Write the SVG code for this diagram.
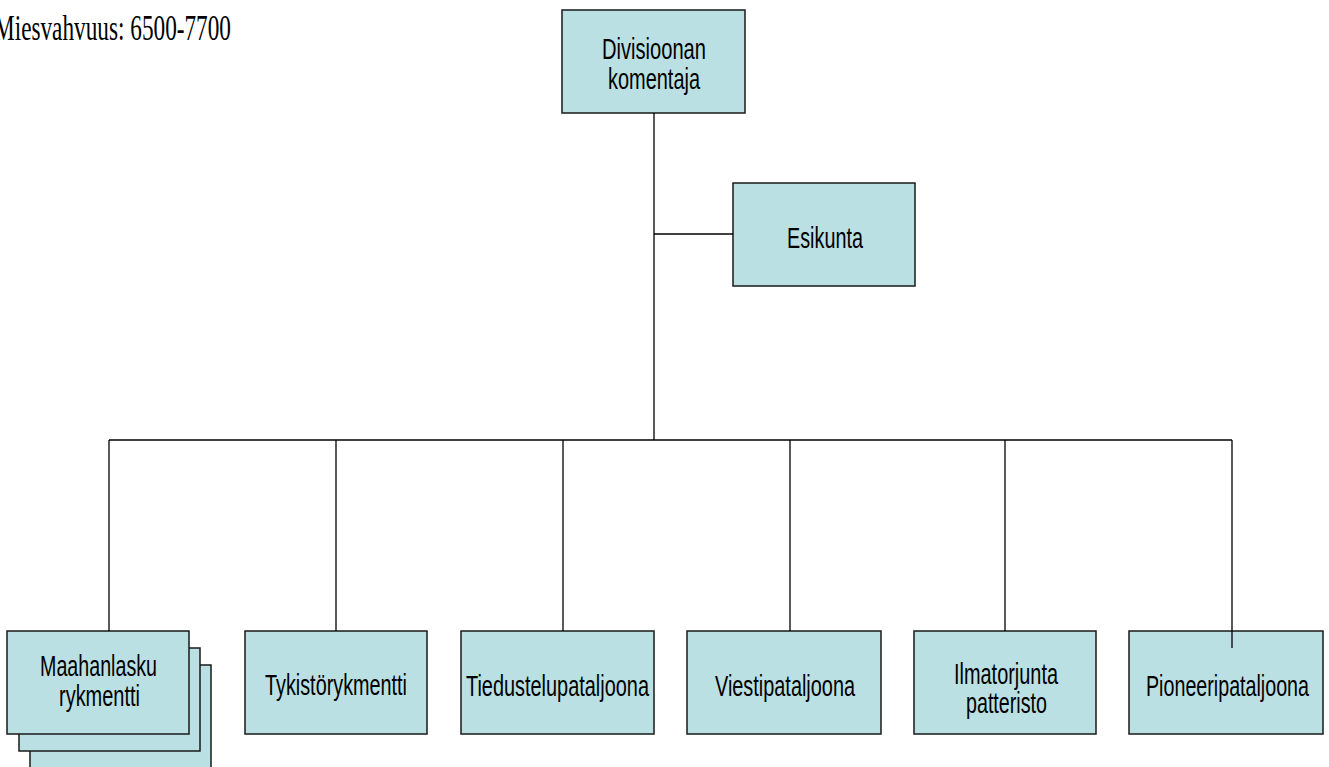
<svg xmlns="http://www.w3.org/2000/svg" width="1329" height="767" viewBox="0 0 1329 767">
<style>
.box{fill:#bbe0e3;stroke:#1a1a1a;stroke-width:1.5}
.t{font-family:"Liberation Sans",Arial,sans-serif;font-size:30px;fill:#000;text-anchor:start}
.c{stroke:#000;stroke-width:1.3;fill:none}
</style>
<rect width="1329" height="767" fill="#fff"/>
<text x="-6" y="40" font-family="Liberation Serif,'Times New Roman',serif" font-size="35" textLength="237" lengthAdjust="spacingAndGlyphs">Miesvahvuus: 6500-7700</text>
<g id="n-komentaja">
<rect class="box" x="562" y="10" width="183" height="103"/>
<text class="t" x="602" y="59" textLength="104" lengthAdjust="spacingAndGlyphs">Divisioonan</text>
<text class="t" x="608" y="89" textLength="92" lengthAdjust="spacingAndGlyphs">komentaja</text>
</g>
<g id="n-esikunta">
<rect class="box" x="733" y="183" width="182" height="103"/>
<text class="t" x="787" y="248" textLength="76" lengthAdjust="spacingAndGlyphs">Esikunta</text>
</g>
<g id="n-maahanlasku">
<rect class="box" x="30" y="665" width="181" height="110"/>
<rect class="box" x="19" y="648" width="181" height="103"/>
<rect class="box" x="7" y="631" width="182" height="103"/>
<text class="t" x="40" y="676" textLength="117" lengthAdjust="spacingAndGlyphs">Maahanlasku</text>
<text class="t" x="59" y="706" textLength="81" lengthAdjust="spacingAndGlyphs">rykmentti</text>
</g>
<g id="n-tykisto">
<rect class="box" x="245" y="631" width="182" height="103"/>
<text class="t" x="265" y="695" textLength="142" lengthAdjust="spacingAndGlyphs">Tykistörykmentti</text>
</g>
<g id="n-tiedustelu">
<rect class="box" x="461" y="631" width="193" height="103"/>
<text class="t" x="466" y="696" textLength="183" lengthAdjust="spacingAndGlyphs">Tiedustelupataljoona</text>
</g>
<g id="n-viesti">
<rect class="box" x="687" y="631" width="194" height="103"/>
<text class="t" x="715" y="696" textLength="140" lengthAdjust="spacingAndGlyphs">Viestipataljoona</text>
</g>
<g id="n-ilmatorjunta">
<rect class="box" x="914" y="631" width="182" height="103"/>
<text class="t" x="954" y="684" textLength="104" lengthAdjust="spacingAndGlyphs">Ilmatorjunta</text>
<text class="t" x="966" y="713" textLength="81" lengthAdjust="spacingAndGlyphs">patteristo</text>
</g>
<g id="n-pioneeri">
<rect class="box" x="1129" y="631" width="194" height="103"/>
<text class="t" x="1146" y="696" textLength="163" lengthAdjust="spacingAndGlyphs">Pioneeripataljoona</text>
</g>
<g id="connectors">
<path class="c" d="M654 113V440"/>
<path class="c" d="M654 234H733"/>
<path class="c" d="M109 440H1232"/>
<path class="c" d="M109 440V631"/>
<path class="c" d="M336 440V631"/>
<path class="c" d="M563 440V631"/>
<path class="c" d="M790 440V631"/>
<path class="c" d="M1005 440V631"/>
<path class="c" d="M1232 440V648"/>
</g>
</svg>
